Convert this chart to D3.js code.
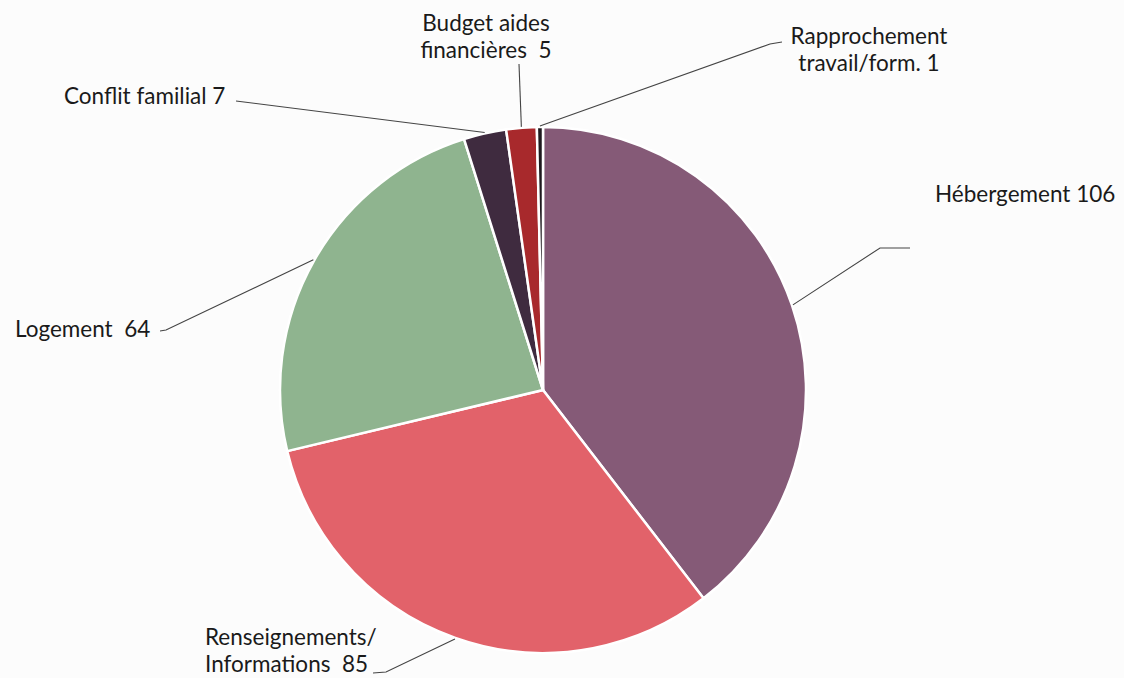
<!DOCTYPE html>
<html><head><meta charset="utf-8">
<script src="https://cdn.jsdelivr.net/npm/d3@7"></script>
<style>
html,body{margin:0;padding:0;background:#fcfcfc;}
svg{display:block;}
text{font-family:Lato,"Open Sans",sans-serif;fill:#1a1a1a;}
</style></head>
<body>
<svg id="chart" width="1124" height="678"></svg>
<script>
const categories = ["Hébergement","Renseignements/ Informations","Logement","Conflit familial","Budget aides financières","Rapprochement travail/form."];
const values = [106, 85, 64, 7, 5, 1];
const labelLines = [
  ["Hébergement 106"],
  ["Renseignements/", "Informations  85"],
  ["Logement  64"],
  ["Conflit familial 7"],
  ["Budget aides", "financières  5"],
  ["Rapprochement", "travail/form. 1"]
];
const colors = ["#855a77","#e2626a","#8fb48f","#3f2b3f","#a8292c","#1e1a1e"];

// label layout (positions, not data)
const layout = [
  {pts:[[880,248],[910,248]], tx:935, ty:202, anchor:"start"},
  {pts:[[386,672],[373,673]], tx:205, ty:645, anchor:"start"},
  {pts:[[166,330],[160,331]], tx:15, ty:337, anchor:"start"},
  {pts:[[236,101]], tx:64, ty:104, anchor:"start"},
  {pts:[[519,64]], tx:486, ty:31, anchor:"middle"},
  {pts:[[770,44],[782,42]], tx:869, ty:44, anchor:"middle"}
];

const svg = d3.select("#chart");
const cx = 543, cy = 390, R = 263;
const g = svg.append("g").attr("transform", `translate(${cx},${cy})`);

const pie = d3.pie().sort(null).value(d => d)(values);
const arc = d3.arc().innerRadius(0).outerRadius(R);

g.selectAll("path.slice").data(pie).join("path")
  .attr("class","slice")
  .attr("d", arc)
  .attr("fill", (d,i) => colors[i])
  .attr("stroke", "#ffffff")
  .attr("stroke-width", 2.5)
  .attr("stroke-linejoin","round");

const line = d3.line();
pie.forEach((d,i) => {
  const a = (d.startAngle + d.endAngle) / 2;
  const p0 = [cx + Math.sin(a) * (R+1), cy - Math.cos(a) * (R+1)];
  const pts = [p0].concat(layout[i].pts);
  svg.append("path").attr("d", line(pts))
    .attr("fill","none").attr("stroke","#444").attr("stroke-width",1.1);
  const t = svg.append("text")
    .attr("x", layout[i].tx).attr("y", layout[i].ty)
    .attr("text-anchor", layout[i].anchor)
    .style("font-size","22.5px");
  labelLines[i].forEach((s,j) => {
    t.append("tspan").attr("x", layout[i].tx).attr("dy", j===0 ? 0 : 27)
      .attr("xml:space","preserve").style("white-space","pre").text(s);
  });
});
</script>
</body></html>
